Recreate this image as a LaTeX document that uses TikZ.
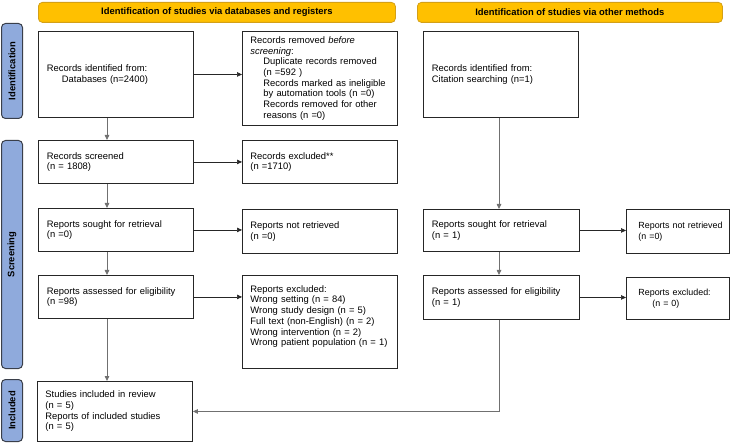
\documentclass[tikz,border=0pt]{standalone}
\usepackage{fontspec}
\setmainfont{Liberation Sans}
\usetikzlibrary{arrows.meta}
\definecolor{hdrfill}{HTML}{FFC000}
\definecolor{hdrdraw}{HTML}{D4A017}
\definecolor{sbfill}{HTML}{8FAADC}
\definecolor{sbdraw}{HTML}{3A3F4A}
\definecolor{boxdraw}{HTML}{262626}
\definecolor{conn}{HTML}{707070}
\newcommand\txtfont{\fontsize{9.4}{10.7}\selectfont}
\newcommand\smtxtfont{\fontsize{8.9}{10.7}\selectfont}
\newcommand\topbox[3]{\parbox[c][#1][t]{#2}{\raggedright #3}}
\tikzset{
  hdr/.style={draw=hdrdraw, fill=hdrfill, rounded corners=4pt, line width=0.8pt,
    font=\txtfont\bfseries, anchor=north west, inner sep=0pt, align=center},
  sidebar/.style={draw=sbdraw, fill=sbfill, rounded corners=4pt, line width=1pt,
    font=\txtfont\bfseries, anchor=north west, inner sep=0pt},
  flowbox/.style={draw=boxdraw, line width=0.9pt, anchor=north west, font=\txtfont,
    align=left, inner xsep=8.5pt, inner ysep=0pt},
  smallbox/.style={flowbox, font=\smtxtfont, inner xsep=12pt, minimum width=103pt, text width=79pt},
  arr/.style={draw=boxdraw, line width=0.6pt, -{Triangle[length=5pt,width=4.5pt]}},
  varr/.style={draw=conn, line width=0.8pt, -{Triangle[length=5pt,width=4.5pt]}},
}
\begin{document}
\begin{tikzpicture}[x=1pt,y=-1pt]
\useasboundingbox (0,0) rectangle (735,443);
% headers
\node[hdr, minimum width=357pt, minimum height=20pt] (h1) at (38,2) {Identification of studies via databases and registers};
\node[hdr, minimum width=305pt, minimum height=20pt] (h2) at (417,2) {Identification of studies via other methods};
% side bars
\node[sidebar, minimum width=21pt, minimum height=95pt] (s1) at (1,23) {};
\node[rotate=90, font=\txtfont\bfseries] (s1t) at (s1.center) {Identification};
\node[sidebar, minimum width=21pt, minimum height=228pt] (s2) at (1,140) {};
\node[rotate=90, font=\txtfont\bfseries] (s2t) at (s2.center) {Screening};
\node[sidebar, minimum width=21pt, minimum height=62pt] (s3) at (1,379) {};
\node[rotate=90, font=\txtfont\bfseries] (s3t) at (s3.center) {Included};
% coordinates for vertical connectors
\coordinate (vl) at (107,0);
\coordinate (vr) at (499,0);
% left column
\node[flowbox, minimum width=155pt, minimum height=86pt, text width=138pt] (A) at (38,31)
  {Records identified from:\\\hspace*{15pt}Databases (n=2400)};
\node[flowbox, minimum width=155pt, minimum height=94pt, inner xsep=8pt, text width=139pt] (B) at (242,31)
  {Records removed \emph{before}\\\emph{screening}:\\
   \hspace*{13pt}Duplicate records removed\\
   \hspace*{13pt}(n =592 )\\
   \hspace*{13pt}Records marked as ineligible\\
   \hspace*{13pt}by automation tools (n =0)\\
   \hspace*{13pt}Records removed for other\\
   \hspace*{13pt}reasons (n =0)};
\node[flowbox, minimum width=155pt, minimum height=86pt, text width=138pt] (C) at (423,31)
  {Records identified from:\\Citation searching (n=1)};
\node[flowbox, minimum width=155pt, minimum height=43pt, text width=138pt] (S) at (38,140)
  {Records screened\\(n = 1808)};
\node[flowbox, minimum width=155pt, minimum height=43pt, inner xsep=8pt, text width=139pt] (E1) at (242,140)
  {Records excluded**\\(n =1710)};
\node[flowbox, minimum width=155pt, minimum height=43pt, text width=138pt] (R1) at (38,208)
  {Reports sought for retrieval\\(n =0)};
\node[flowbox, minimum width=155pt, minimum height=44pt, inner xsep=8pt, text width=139pt] (N1) at (242,209)
  {Reports not retrieved\\(n =0)};
\node[flowbox, minimum width=156pt, minimum height=42pt, text width=139pt] (R2) at (423,209)
  {Reports sought for retrieval\\(n = 1)};
\node[smallbox, minimum height=44pt] (N2) at (626,209)
  {\mbox{Reports not retrieved}\\(n =0)};
\node[flowbox, minimum width=155pt, minimum height=43pt, text width=138pt] (F1) at (38,275)
  {Reports assessed for eligibility\\(n =98)};
\node[flowbox, minimum width=155pt, inner xsep=8pt, text width=139pt] (X1) at (242,275)
  {\topbox{93pt}{139pt}{\vspace*{10pt}Reports excluded:\\Wrong setting (n = 84)\\Wrong study design (n = 5)\\Full text (non-English) (n = 2)\\Wrong intervention (n = 2)\\Wrong patient population (n = 1)}};
\node[flowbox, minimum width=156pt, minimum height=44pt, text width=139pt] (F2) at (423,275)
  {Reports assessed for eligibility\\(n = 1)};
\node[smallbox, minimum height=42pt] (X2) at (626,277)
  {\mbox{Reports excluded:}\\\hspace*{14pt}(n = 0)};
\node[flowbox, minimum width=155pt, minimum height=60pt, inner xsep=8pt, text width=139pt] (I) at (37,381)
  {Studies included in review\\(n = 5)\\Reports of included studies\\(n = 5)};
% horizontal arrows
\draw[arr] (A.east) -- (A.east -| B.west);
\draw[arr] (S.east) -- (S.east -| E1.west);
\draw[arr] (R1.east) -- (R1.east -| N1.west);
\draw[arr] (F1.east) -- (F1.east -| X1.west);
\draw[arr] (R2.east) -- (R2.east -| N2.west);
\draw[arr] (F2.east) -- (F2.east -| X2.west);
% vertical arrows
\draw[varr] (A.south -| vl) -- (S.north -| vl);
\draw[varr] (S.south -| vl) -- (R1.north -| vl);
\draw[varr] (R1.south -| vl) -- (F1.north -| vl);
\draw[varr] (F1.south -| vl) -- (I.north -| vl);
\draw[varr] (C.south -| vr) -- (R2.north -| vr);
\draw[varr] (R2.south -| vr) -- (F2.north -| vr);
\draw[varr] (F2.south -| vr) |- (I.east);
\end{tikzpicture}
\end{document}
